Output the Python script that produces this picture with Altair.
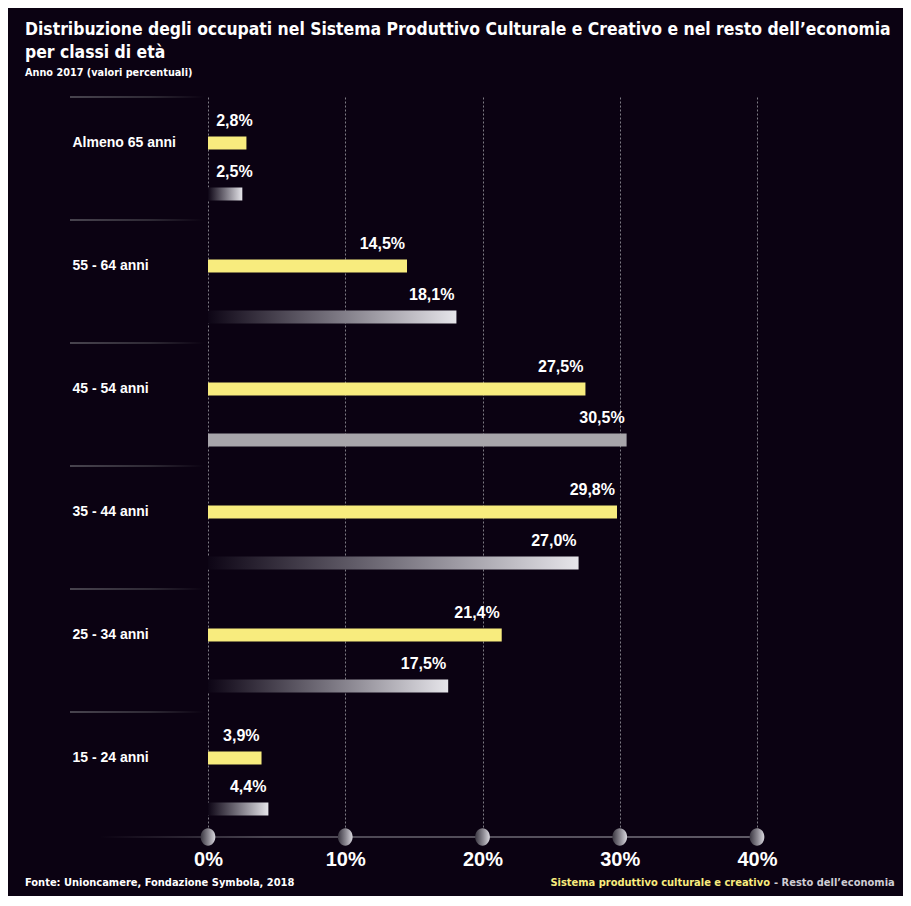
import altair as alt
import pandas as pd

# ---- data ----
categorie = ["Almeno 65 anni", "55 - 64 anni", "45 - 54 anni",
             "35 - 44 anni", "25 - 34 anni", "15 - 24 anni"]
serie = ["Sistema produttivo culturale e creativo", "Resto dell’economia"]
valori_spcc = [2.8, 14.5, 27.5, 29.8, 21.4, 3.9]
valori_resto = [2.5, 18.1, 30.5, 27.0, 17.5, 4.4]
tick_valori = [0, 10, 20, 30, 40]

rows = []
for c, a, b in zip(categorie, valori_spcc, valori_resto):
    rows.append({"cat": c, "serie": serie[0], "value": a})
    rows.append({"cat": c, "serie": serie[1], "value": b})
df = pd.DataFrame(rows)

BG = "#0b0212"
YELLOW = "#f8ec7e"
GRAY_SOLID = "#a7a5aa"
W, H = 549, 738
FONT = "Liberation Sans"
NARROW = "'DejaVu Sans Condensed', Roboto, sans-serif"


def lin_grad(stops):
    return alt.LinearGradient(
        gradient="linear",
        stops=[alt.GradientStop(color=c, offset=o) for o, c in stops],
        x1=0, x2=1, y1=0, y2=0)


grad_bar = lin_grad([(0, "#0d0515"), (0.5, "#77737e"), (1, "#e6e5ea")])
grad_sep = lin_grad([(0, "#5d5a63"), (0.6, "#3a3640"), (1, BG)])
grad_axis = lin_grad([(0, BG), (0.25, "#5f5b66"), (1, "#7a7681")])
grad_sphere = lin_grad([(0, "#3a3641"), (0.55, "#8e8b94"), (1, "#d9d7de")])

xscale = alt.Scale(domain=[0, 40], nice=False, zero=True)
yscale = alt.Scale(domain=categorie, paddingInner=0, paddingOuter=0)
yoff_scale = alt.Scale(domain=serie, range=[39.5, 103.5],
                       paddingInner=0.745, paddingOuter=0)

x_axis = alt.Axis(values=tick_valori, labelExpr="datum.value + '%'",
                  grid=True, gridDash=[2, 2], gridColor="#7d7a83", gridWidth=1,
                  domain=False, ticks=False, tickSize=0, labelFlush=False,
                  labelAlign="center",
                  labelColor="white", labelFont=FONT, labelFontWeight="bold",
                  labelFontSize=20, labelPadding=14, labelBaseline="top",
                  title=None)
y_axis = alt.Axis(labelAlign="left", labelPadding=136, labelOffset=-15.5,
                  labelBaseline="middle", domain=False, ticks=False, tickSize=0,
                  labelColor="white", labelFont=FONT, labelFontWeight="bold",
                  labelFontSize=14, grid=False, title=None)

x_enc = alt.X("value:Q", scale=xscale, axis=x_axis, title=None)
y_enc = alt.Y("cat:N", scale=yscale, sort=categorie, axis=y_axis, title=None)
yoff_enc = alt.YOffset("serie:N", scale=yoff_scale)

base = alt.Chart(df)

bars_spcc = base.transform_filter(
    alt.datum.serie == serie[0]
).mark_bar(fill=YELLOW).encode(x=x_enc, y=y_enc, yOffset=yoff_enc)

bars_resto = base.transform_filter(
    (alt.datum.serie == serie[1]) & (alt.datum.cat != "45 - 54 anni")
).mark_bar(fill=grad_bar).encode(x=x_enc, y=y_enc, yOffset=yoff_enc)

bars_resto_solid = base.transform_filter(
    (alt.datum.serie == serie[1]) & (alt.datum.cat == "45 - 54 anni")
).mark_bar(fill=GRAY_SOLID).encode(x=x_enc, y=y_enc, yOffset=yoff_enc)

labels = base.transform_calculate(
    label="replace(format(datum.value, '.1f'), '.', ',') + '%'",
    labelx="max(datum.value, 3.4)"
).mark_text(align="right", baseline="middle", dy=-22, dx=-2, color="white",
            font=FONT, fontWeight="bold", fontSize=16).encode(
    x=alt.X("labelx:Q", scale=xscale, axis=x_axis, title=None),
    y=y_enc, yOffset=yoff_enc, text="label:N")

separators = alt.Chart(pd.DataFrame({"cat": categorie})).mark_bar(
    size=1.6, yOffset=-61.5, fill=grad_sep
).encode(x=alt.value(-138), x2=alt.value(-4), y=y_enc)

axis_line = alt.Chart(alt.Data(values=[{}])).mark_rect(fill=grad_axis).encode(
    x=alt.value(-108), x2=alt.value(W), y=alt.value(739.2), y2=alt.value(740.8))

ellipse = "M0,-1 A0.85,1 0 1,1 0,1 A0.85,1 0 1,1 0,-1 Z"
spheres = alt.Chart(pd.DataFrame({"value": tick_valori})).mark_point(
    shape=ellipse, filled=True, size=300, fill=grad_sphere, opacity=1,
    strokeWidth=0
).encode(x=x_enc, y=alt.value(740))


def txt(text, x, y, size, color="white", align="left", font=NARROW):
    return alt.Chart(alt.Data(values=[{}])).mark_text(
        text=text, align=align, baseline="middle", fontSize=size, font=font,
        fontWeight="bold", color=color
    ).encode(x=alt.value(x), y=alt.value(y))


title1 = txt("Distribuzione degli occupati nel Sistema Produttivo Culturale e "
             "Creativo e nel resto dell’economia", -183, -67, 17.4)
title2 = txt("per classi di età", -183, -44, 17.4)
subtitle = txt("Anno 2017 (valori percentuali)", -183, -24, 10.8)
fonte = txt("Fonte: Unioncamere, Fondazione Symbola, 2018", -183, 786, 11)
leg1 = txt("Sistema produttivo culturale e creativo", 562, 786, 11,
           color=YELLOW, align="right")
leg2 = txt("- Resto dell’economia", 566, 786, 11, color="#cfcdd4")

chart = alt.layer(
    separators, axis_line, bars_spcc, bars_resto, bars_resto_solid, labels,
    spheres, title1, title2, subtitle, fonte, leg1, leg2
).properties(
    width=W, height=H, background=BG,
    padding={"left": 200, "top": 89, "right": 146, "bottom": 61},
    autosize=alt.AutoSizeParams(type="none")
).configure_view(stroke=None)

chart.save("out.html", embed_options={"renderer": "svg", "actions": False})
